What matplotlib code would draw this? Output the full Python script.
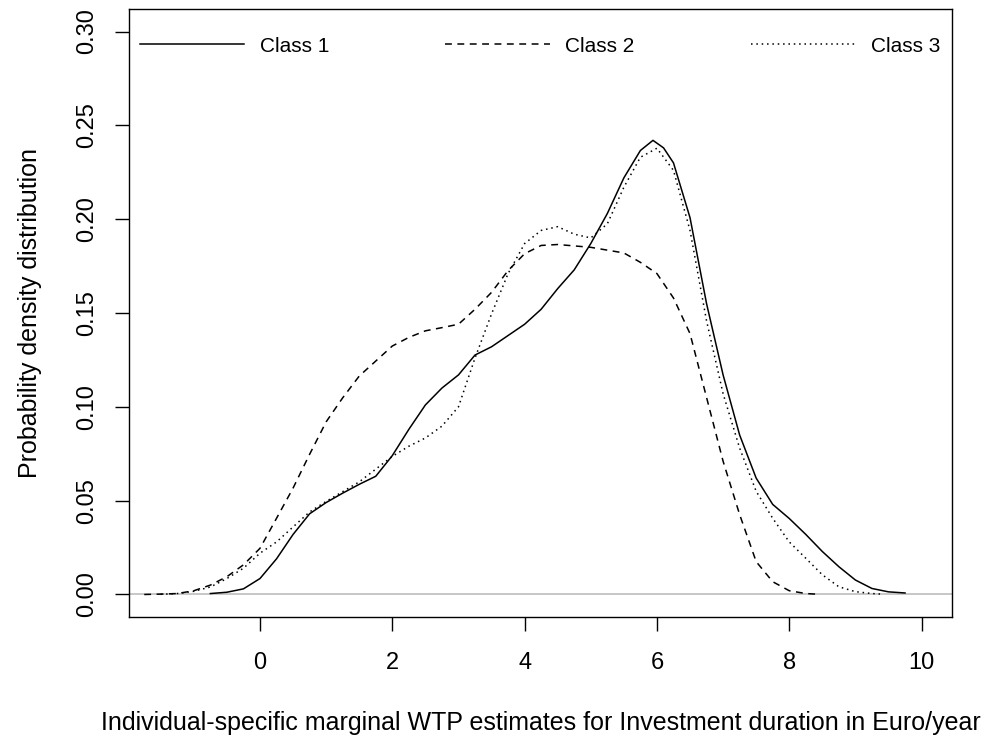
import numpy as np
import matplotlib.pyplot as plt
from matplotlib.ticker import FormatStrFormatter

plt.rcParams['font.family'] = ['Liberation Sans', 'DejaVu Sans']

# density curves
class1_x = [-0.75, -0.5, -0.25, 0.0, 0.25, 0.5, 0.75, 1.0, 1.25, 1.5, 1.75, 2.0, 2.25, 2.5, 2.75,
            3.0, 3.25, 3.5, 3.75, 4.0, 4.25, 4.5, 4.75, 5.0, 5.25, 5.5, 5.75, 5.94, 6.1, 6.25,
            6.5, 6.75, 7.0, 7.25, 7.5, 7.75, 8.0, 8.25, 8.5, 8.75, 9.0, 9.25, 9.5, 9.75]
class1_y = [0.0005, 0.0012, 0.003, 0.0085, 0.019, 0.032, 0.043, 0.049, 0.054, 0.0587, 0.063, 0.074,
            0.088, 0.101, 0.110, 0.117, 0.1276, 0.132, 0.138, 0.144, 0.152, 0.163, 0.173, 0.187,
            0.203, 0.222, 0.2366, 0.242, 0.238, 0.23, 0.2008, 0.155, 0.117, 0.085, 0.062, 0.048,
            0.0405, 0.032, 0.0229, 0.0148, 0.0077, 0.0032, 0.0014, 0.0008]

class2_x = [-1.75, -1.5, -1.25, -1.0, -0.75, -0.5, -0.25, 0.0, 0.25, 0.5, 0.75, 1.0, 1.25, 1.5,
            1.75, 2.0, 2.25, 2.5, 2.75, 3.0, 3.25, 3.5, 3.75, 4.0, 4.25, 4.5, 5.0, 5.5, 5.75, 6.0,
            6.25, 6.5, 6.75, 7.0, 7.25, 7.5, 7.75, 8.0, 8.25, 8.4]
class2_y = [0.0, 0.0002, 0.0005, 0.002, 0.005, 0.0095, 0.0158, 0.0246, 0.0406, 0.0567, 0.0747,
            0.092, 0.1048, 0.1164, 0.1244, 0.1324, 0.137, 0.1405, 0.1422, 0.144, 0.152, 0.161,
            0.1726, 0.1816, 0.186, 0.1865, 0.185, 0.182, 0.177, 0.171, 0.158, 0.139, 0.105, 0.071,
            0.0426, 0.0175, 0.0068, 0.002, 0.0005, 0.0002]

class3_x = [-1.5, -1.25, -1.0, -0.75, -0.5, -0.25, 0.0, 0.25, 0.5, 0.75, 1.0, 1.5, 2.0, 2.25, 2.5,
            2.75, 3.0, 3.25, 3.5, 3.75, 4.0, 4.25, 4.5, 4.75, 5.0, 5.25, 5.5, 5.75, 6.0, 6.25, 6.5,
            6.75, 7.0, 7.25, 7.5, 7.75, 8.0, 8.25, 8.5, 8.75, 9.0, 9.25, 9.4]
class3_y = [0.0001, 0.0005, 0.0017, 0.004, 0.0085, 0.014, 0.022, 0.028, 0.036, 0.044, 0.0496, 0.060,
            0.0736, 0.079, 0.0834, 0.0897, 0.100, 0.126, 0.1495, 0.171, 0.187, 0.194, 0.196, 0.192,
            0.190, 0.1975, 0.217, 0.233, 0.2378, 0.226, 0.194, 0.1458, 0.107, 0.078, 0.055, 0.0406,
            0.028, 0.0193, 0.0105, 0.0041, 0.0015, 0.0005, 0.0002]

labels = ["Class 1", "Class 2", "Class 3"]
x_ticks = [0, 2, 4, 6, 8, 10]
y_ticks = [0.0, 0.05, 0.10, 0.15, 0.20, 0.25, 0.30]

fig = plt.figure(figsize=(9.87, 7.42), dpi=100)
ax = fig.add_axes([129 / 987, 1 - 617 / 742, 823 / 987, 608 / 742])

ax.axhline(0, color='#bebebe', lw=1.2, zorder=1)
ax.plot(class1_x, class1_y, color='black', lw=1.1, ls='-', label=labels[0])
ax.plot(class2_x, class2_y, color='black', lw=1.1, ls=(0, (4.5, 3.6)), label=labels[1])
ax.plot(class3_x, class3_y, color='black', lw=1.1, ls=(0, (1, 2.5)), label=labels[2])

ax.set_xlim(-1.98, 10.46)
ax.set_ylim(-0.012, 0.312)
ax.set_xticks(x_ticks)
ax.set_yticks(y_ticks)
ax.yaxis.set_major_formatter(FormatStrFormatter('%.2f'))
ax.tick_params(direction='out', length=10, width=1.0, labelsize=17, colors='black')
ax.tick_params(axis='x', pad=15)
ax.tick_params(axis='y', pad=12)
for lab in ax.get_yticklabels():
    lab.set_rotation(90)
    lab.set_va('center')
for s in ax.spines.values():
    s.set_linewidth(1.0)

ax.set_xlabel("Individual-specific marginal WTP estimates for Investment duration in Euro/year",
              fontsize=18, labelpad=27)
ax.set_ylabel("Probability density distribution", fontsize=18, labelpad=25)

ax.legend(loc='center left', bbox_to_anchor=(11 / 823, 0.939, 800 / 823, 0.0), ncol=3,
          mode='expand', frameon=False, fontsize=15, handlelength=5.0, handletextpad=0.75,
          borderpad=0, borderaxespad=0)

fig.savefig("out.png", dpi=100)
